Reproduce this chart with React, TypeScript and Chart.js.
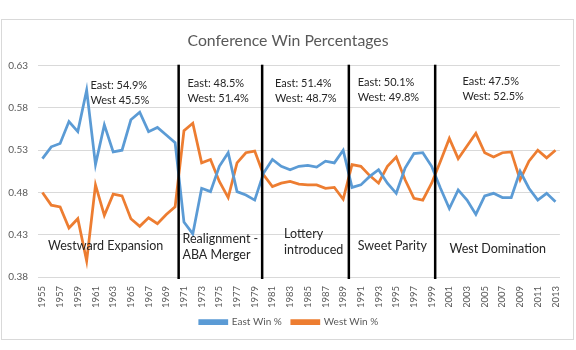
import { useEffect, useRef } from "react";
import { Chart, registerables } from "chart.js";

Chart.register(...registerables);

const years = [
  "1955", "1956", "1957", "1958", "1959", "1960", "1961", "1962", "1963", "1964",
  "1965", "1966", "1967", "1968", "1969", "1970", "1971", "1972", "1973", "1974",
  "1975", "1976", "1977", "1978", "1979", "1980", "1981", "1982", "1983", "1984",
  "1985", "1986", "1987", "1988", "1989", "1990", "1991", "1992", "1993", "1994",
  "1995", "1996", "1997", "1998", "1999", "2000", "2001", "2002", "2003", "2004",
  "2005", "2006", "2007", "2008", "2009", "2010", "2011", "2012", "2013",
];

const eastWin = [
  0.520, 0.534, 0.538, 0.564, 0.552, 0.601, 0.513, 0.560, 0.528, 0.530,
  0.566, 0.575, 0.552, 0.557, 0.548, 0.539, 0.445, 0.431, 0.485, 0.481,
  0.511, 0.527, 0.481, 0.477, 0.471, 0.503, 0.519, 0.511, 0.507, 0.511,
  0.512, 0.510, 0.517, 0.515, 0.530, 0.486, 0.489, 0.499, 0.507, 0.491,
  0.479, 0.509, 0.526, 0.527, 0.511, 0.485, 0.461, 0.483, 0.471, 0.454,
  0.476, 0.479, 0.474, 0.474, 0.505, 0.485, 0.471, 0.479, 0.469,
];

const westWin = [
  0.480, 0.465, 0.463, 0.438, 0.449, 0.399, 0.489, 0.453, 0.478, 0.476,
  0.449, 0.440, 0.450, 0.443, 0.454, 0.463, 0.553, 0.562, 0.515, 0.519,
  0.493, 0.474, 0.515, 0.527, 0.529, 0.501, 0.487, 0.491, 0.493, 0.490,
  0.489, 0.489, 0.485, 0.486, 0.472, 0.513, 0.511, 0.500, 0.491, 0.511,
  0.522, 0.495, 0.473, 0.471, 0.491, 0.517, 0.544, 0.520, 0.535, 0.550,
  0.527, 0.522, 0.527, 0.528, 0.495, 0.517, 0.530, 0.521, 0.530,
];

const yTicks = [0.38, 0.43, 0.48, 0.53, 0.58, 0.63];

// era boundaries, in category-index units
const eraDividers = [15.4, 24.84, 34.64, 44.4];

const eraRecords = [
  ["East: 54.9%", "West 45.5%"],
  ["East: 48.5%", "West: 51.4%"],
  ["East: 51.4%", "West: 48.7%"],
  ["East: 50.1%", "West: 49.8%"],
  ["East: 47.5%", "West: 52.5%"],
];

const eraNames = [
  ["Westward Expansion"],
  ["Realignment -", "ABA Merger"],
  ["Lottery", "introduced"],
  ["Sweet Parity"],
  ["West Domination"],
];

// placement of annotation text: [category index of left edge, value of first line]
const recordPlacement = [
  [5.44, 0.6067],
  [16.4, 0.6091],
  [26.3, 0.6091],
  [35.65, 0.6103],
  [47.48, 0.6115],
];
const namePlacement = [
  [0.63, 0.4173],
  [15.83, 0.4245],
  [27.32, 0.4305],
  [35.65, 0.4173],
  [46.01, 0.4137],
];

const FONT = "Lato, 'Open Sans', sans-serif";

const decorPlugin = {
  id: "decor",
  beforeDraw(chart: any) {
    const ctx = chart.ctx;
    ctx.save();
    ctx.fillStyle = "#ffffff";
    ctx.fillRect(0, 0, chart.width, chart.height);
    ctx.strokeStyle = "#d9d9d9";
    ctx.lineWidth = 1;
    ctx.strokeRect(1.5, 19.5, 572, 320);
    ctx.restore();
  },
  afterDatasetsDraw(chart: any) {
    const ctx = chart.ctx;
    const xs = chart.scales.x;
    const ys = chart.scales.y;
    ctx.save();
    ctx.strokeStyle = "#000000";
    ctx.lineWidth = 2.5;
    eraDividers.forEach((d) => {
      const x = xs.getPixelForValue(d);
      ctx.beginPath();
      ctx.moveTo(x, ys.top - 1);
      ctx.lineTo(x, ys.bottom + 2);
      ctx.stroke();
    });
    ctx.fillStyle = "#262626";
    ctx.textAlign = "left";
    ctx.textBaseline = "middle";
    ctx.font = `11px ${FONT}`;
    eraRecords.forEach((lines, i) => {
      const x = xs.getPixelForValue(recordPlacement[i][0]);
      const y = ys.getPixelForValue(recordPlacement[i][1]);
      lines.forEach((t, j) => ctx.fillText(t, x, y + j * 15));
    });
    ctx.font = `12.5px ${FONT}`;
    eraNames.forEach((lines, i) => {
      const x = xs.getPixelForValue(namePlacement[i][0]);
      const y = ys.getPixelForValue(namePlacement[i][1]);
      lines.forEach((t, j) => ctx.fillText(t, x, y + j * 15.5));
    });
    ctx.fillStyle = "#595959";
    ctx.textAlign = "center";
    ctx.font = `15.8px ${FONT}`;
    ctx.fillText("Conference Win Percentages", 288, 41);
    ctx.restore();
  },
};

export default function App() {
  const ref = useRef<HTMLCanvasElement | null>(null);

  useEffect(() => {
    document.body.style.margin = "0";
    if (!ref.current) return;
    const chart = new Chart(ref.current, {
      type: "line",
      data: {
        labels: years,
        datasets: [
          {
            label: "East Win %",
            data: eastWin,
            borderColor: "#5B9BD5",
            backgroundColor: "#5B9BD5",
            borderWidth: 2.75,
            pointRadius: 0,
            tension: 0,
          },
          {
            label: "West Win %",
            data: westWin,
            borderColor: "#ED7D31",
            backgroundColor: "#ED7D31",
            borderWidth: 2.75,
            pointRadius: 0,
            tension: 0,
          },
        ],
      },
      options: {
        responsive: false,
        animation: false,
        layout: { padding: { top: 65.7, left: 2, right: 0, bottom: 13 } },
        plugins: {
          title: { display: false },
          tooltip: { enabled: false },
          legend: {
            position: "bottom",
            labels: {
              boxWidth: 27,
              boxHeight: 3,
              padding: 10,
              color: "#595959",
              font: { family: FONT, size: 10 },
            },
          },
        },
        scales: {
          x: {
            offset: true,
            grid: { display: false, drawTicks: false },
            border: { display: true, color: "#d9d9d9" },
            ticks: {
              autoSkip: false,
              maxRotation: 90,
              minRotation: 90,
              padding: 9,
              color: "#595959",
              font: { family: FONT, size: 9.5 },
              callback: (_v: any, i: number) => (i % 2 === 0 ? years[i] : ""),
            },
            afterFit: (s: any) => {
              s.height = 30;
            },
          },
          y: {
            min: 0.38,
            max: 0.63,
            afterBuildTicks: (s: any) => {
              s.ticks = yTicks.map((v) => ({ value: v }));
            },
            grid: { color: "#d9d9d9", drawTicks: false },
            border: { display: false },
            ticks: {
              padding: 10,
              color: "#595959",
              font: { family: FONT, size: 10 },
              callback: (v: any) => Number(v).toFixed(2),
            },
            afterFit: (s: any) => {
              s.width = 36;
            },
          },
          y2: {
            position: "right",
            display: true,
            grid: { display: false, drawTicks: false },
            border: { display: false },
            ticks: { display: false },
            afterFit: (s: any) => {
              s.width = 14;
            },
          },
        },
      },
      plugins: [decorPlugin],
    });
    return () => chart.destroy();
  }, []);

  return (
    <div style={{ width: 576, height: 350 }}>
      <canvas ref={ref} width={576} height={350} style={{ display: "block" }} />
    </div>
  );
}
